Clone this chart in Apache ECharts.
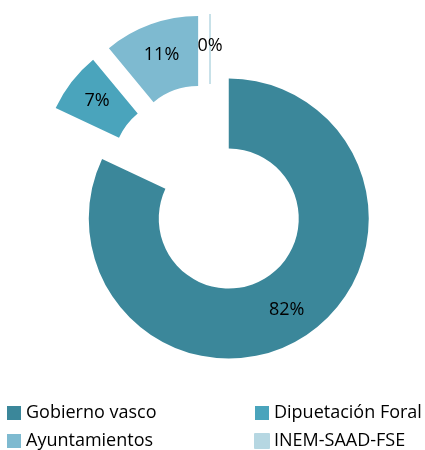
<!DOCTYPE html>
<html>
<head>
<meta charset="utf-8">
<script src="https://cdn.jsdelivr.net/npm/echarts@6/dist/echarts.min.js"></script>
<style>
  html, body { margin: 0; padding: 0; background: #fff; }
  #chart { width: 425px; height: 450px; }
</style>
</head>
<body>
<div id="chart"></div>
<script>
// datos del gráfico
const categories = ['Gobierno vasco', 'Dipuetación Foral', 'Ayuntamientos', 'INEM-SAAD-FSE']
const values = [82, 7, 11, 0]
const colors = ['#3B879A', '#4AA4BC', '#7EBAD0', '#B6D7E2']

const chart = echarts.init(document.getElementById('chart'))

const pieData = categories.map((name, i) => ({
  name,
  value: values[i],
  selected: true,
  itemStyle: {
    color: colors[i],
    // la porción de 0% solo se ve como una línea fina
    borderColor: values[i] === 0 ? colors[i] : undefined,
    borderWidth: values[i] === 0 ? 1 : 0
  }
}))

const legendText = {
  color: '#000',
  fontSize: 18,
  fontFamily: 'Open Sans'
}

const option = {
  animation: false,
  legend: [
    {
      orient: 'vertical',
      left: 7,
      top: 404,
      padding: 0,
      itemWidth: 14,
      itemHeight: 14,
      itemGap: 10,
      icon: 'rect',
      textStyle: legendText,
      data: [categories[0], categories[2]]
    },
    {
      orient: 'vertical',
      left: 254,
      top: 404,
      padding: 0,
      itemWidth: 14,
      itemHeight: 14,
      itemGap: 10,
      icon: 'rect',
      textStyle: legendText,
      data: [categories[1], categories[3]]
    }
  ],
  series: [
    {
      type: 'pie',
      center: [210, 189],
      radius: [70, 140],
      startAngle: 90,
      clockwise: true,
      selectedMode: 'multiple',
      selectedOffset: 35,
      emphasis: { disabled: true },
      label: {
        show: true,
        position: 'inside',
        formatter: '{d}%',
        color: '#000',
        fontSize: 18,
        fontFamily: 'Open Sans'
      },
      labelLine: { show: false },
      data: pieData
    }
  ]
}

chart.setOption(option)
</script>
</body>
</html>
